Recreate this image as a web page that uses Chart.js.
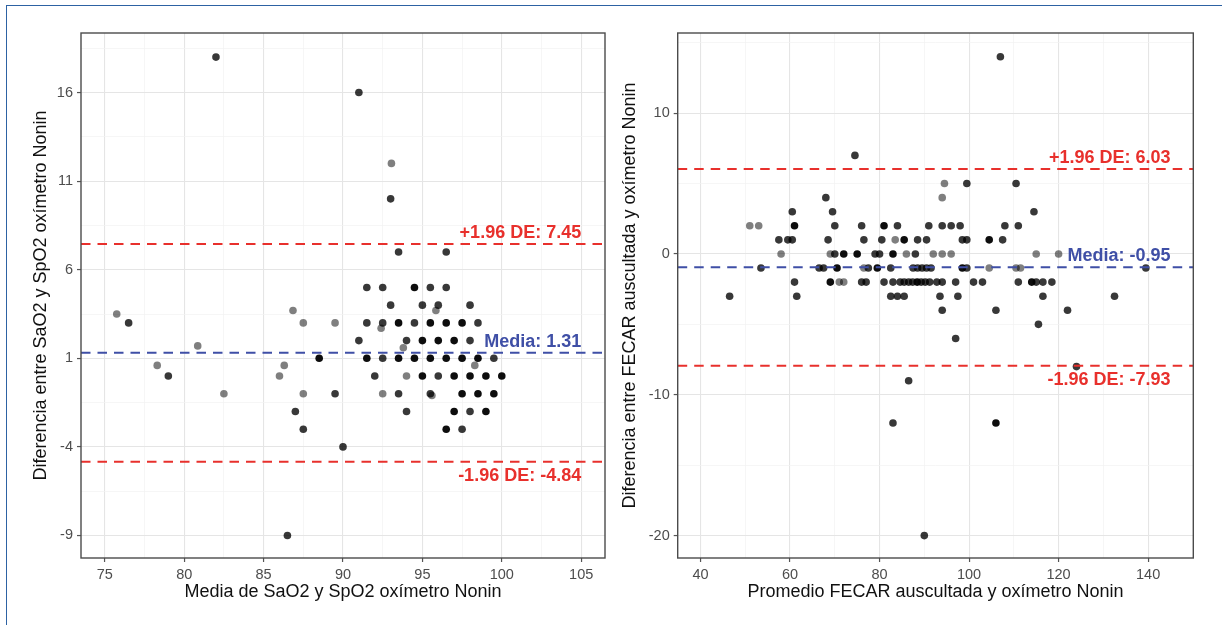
<!DOCTYPE html>
<html>
<head>
<meta charset="utf-8">
<script src="https://cdn.jsdelivr.net/npm/chart.js@4.4.0/dist/chart.umd.min.js"></script>
<style>
  html, body { margin: 0; padding: 0; background: #fff; }
  body { width: 1222px; height: 625px; position: relative; overflow: hidden; }
  canvas { position: absolute; top: 0; }
  #left { left: 0; }
  #right { left: 615px; }
  #frame { position: absolute; left: 6px; top: 5px; width: 1300px; height: 700px;
           border-left: 1.5px solid #2d62a3; border-top: 1.5px solid #2d62a3; pointer-events: none; }
</style>
</head>
<body>
<canvas id="left" width="615" height="625"></canvas>
<canvas id="right" width="607" height="625"></canvas>
<div id="frame"></div>
<script>
/* ====== DATOS ======
 * Panel izquierdo: SaO2 vs SpO2 (Bland-Altman)
 * Panel derecho: FECAR auscultada vs oxímetro
 * Los puntos se agrupan por tono (gris = 1 obs, oscuro, negro = varias superpuestas)
 */

// --- panel izquierdo ---
const leftBlackX = [94.5, 93.5, 95.5, 96.5, 97.5, 95, 96, 97, 88.5, 91.5, 93.5, 94.5, 95.5, 96.5, 97.5, 98.5,
                    95, 97, 98, 99, 100, 97.5, 98.5, 99.5, 97, 99, 96.5];
const leftBlackY = [5, 3, 3, 3, 3, 2, 2, 2, 1, 1, 1, 1, 1, 1, 1, 1,
                    0, 0, 0, 0, 0, -1, -1, -1, -2, -2, -3];

const leftDarkX = [82, 91, 93, 93.5, 96.5, 91.5, 92.5, 95.5, 96.5, 93, 95, 96, 98,
                   76.5, 91.5, 92.5, 94.5, 98.5, 91, 94, 98, 92.5, 99.5, 79, 92, 96,
                   89.5, 93.5, 95.5, 87, 94, 98, 87.5, 97.5, 90, 86.5];
const leftDarkY = [18, 16, 10, 7, 7, 5, 5, 5, 5, 4, 4, 4, 4,
                   3, 3, 3, 3, 3, 2, 2, 2, 1, 1, 0, 0, 0,
                   -1, -1, -1, -2, -2, -2, -3, -3, -4, -9];

const leftGrayX = [75.75, 86.85, 95.85, 93.05, 87.5, 89.5, 92.4, 80.85, 93.8, 78.3, 86.3, 98.3,
                   86, 94, 82.5, 87.5, 92.5, 95.6];
const leftGrayY = [3.5, 3.7, 3.7, 12, 3, 3, 2.7, 1.7, 1.6, 0.6, 0.6, 0.6,
                   0, 0, -1, -1, -1, -1.1];

const leftMean = 1.31, leftUpper = 7.45, leftLower = -4.84;
const leftXMajor = [75, 80, 85, 90, 95, 100, 105];
const leftXMinor = [77.5, 82.5, 87.5, 92.5, 97.5, 102.5];
const leftYMajor = [-9, -4, 1, 6, 11, 16];
const leftYMinor = [-6.5, -1.5, 3.5, 8.5, 13.5, 18.5];

// --- panel derecho ---
const rightBlackX = [61, 81, 85.5, 104.5, 72, 75, 83, 70.5, 79.5, 98.5, 69, 88.4, 114, 106];
const rightBlackY = [2, 2, 1, 1, 0, 0, 0, -1, -1, -1, -2, -2, -2, -12];

const rightDarkX = [107, 74.5, 99.5, 110.5, 68, 60.5, 69.5, 114.5,
  70, 76, 84, 91, 94, 96, 98, 108, 111,
  57.5, 59.5, 60.5, 68.5, 76.5, 80.5, 88.5, 90.5, 98.5, 99.5, 107.5,
  70, 79, 80, 88,
  53.5, 66.5, 67.5, 77.5, 82.5, 87.5, 88.5, 89.5, 90.5, 91.5, 99.5, 139.5,
  61, 76, 77, 81, 83, 84.6, 85.5, 86.5, 87.4, 89.3, 90.2, 91.2, 92.8, 94, 97, 101, 103, 111, 115, 116.5, 118.5,
  46.5, 61.5, 82.5, 84, 85.5, 93.5, 97.5, 116.5, 132.5,
  94, 106, 122, 115.5, 97, 124, 86.5, 83, 90];
const rightDarkY = [14, 7, 5, 5, 4, 3, 3, 3,
  2, 2, 2, 2, 2, 2, 2, 2, 2,
  1, 1, 1, 1, 1, 1, 1, 1, 1, 1, 1,
  0, 0, 0, 0,
  -1, -1, -1, -1, -1, -1, -1, -1, -1, -1, -1, -1,
  -2, -2, -2, -2, -2, -2, -2, -2, -2, -2, -2, -2, -2, -2, -2, -2, -2, -2, -2, -2, -2,
  -3, -3, -3, -3, -3, -3, -3, -3, -3,
  -4, -4, -4, -5, -6, -8, -9, -12, -20];

const rightGrayX = [51, 53, 83.5, 58, 69, 86, 92, 94, 96, 115, 120, 76.5, 104.5, 110.5, 111.5, 71, 72, 94, 94.5];
const rightGrayY = [2, 2, 1, 0, 0, 0, 0, 0, 0, 0, 0, -1, -1, -1, -1, -2, -2, 4, 5];

const rightMean = -0.95, rightUpper = 6.03, rightLower = -7.93;
const rightXMajor = [40, 60, 80, 100, 120, 140];
const rightXMinor = [50, 70, 90, 110, 130];
const rightYMajor = [-20, -10, 0, 10];
const rightYMinor = [-15, -5, 5, 15];

// colores
const RED = '#e8302c';
const BLUE = '#3f4fa6';
const FONT = '"Liberation Sans", Arial, Helvetica, sans-serif';

const pts = (xs, ys) => xs.map((x, i) => ({ x, y: ys[i] }));

// marco del panel + etiquetas de las líneas
const panelPlugin = {
  id: 'panel',
  afterDatasetsDraw(chart, args, opts) {
    const { ctx, chartArea: a, scales: { x, y } } = chart;
    ctx.save();
    ctx.strokeStyle = '#4b4b4b';
    ctx.lineWidth = 1.4;
    ctx.strokeRect(a.left, a.top, a.width, a.height);
    ctx.font = 'bold 18px ' + FONT;
    ctx.textAlign = 'right';
    ctx.textBaseline = 'alphabetic';
    const px = x.getPixelForValue(opts.labelX);
    opts.labels.forEach(l => {
      const py = y.getPixelForValue(l.value);
      ctx.fillStyle = l.color;
      ctx.fillText(l.text, px, l.below ? py + 19.5 : py - 6.3);
    });
    ctx.restore();
  }
};

function axis(range, major, minor, title, fit) {
  const all = [...major, ...minor].sort((a, b) => a - b);
  const isMajor = v => major.includes(v);
  return {
    type: 'linear',
    min: range[0], max: range[1],
    afterBuildTicks: s => { s.ticks = all.map(v => ({ value: v })); },
    afterFit: fit,
    border: { display: false },
    grid: {
      color: c => (c.tick && isMajor(c.tick.value)) ? '#e5e5e5' : '#f2f2f2',
      lineWidth: c => (c.tick && isMajor(c.tick.value)) ? 1.1 : 0.7,
      drawTicks: true,
      tickLength: 4,
      tickWidth: 1.2,
      tickColor: c => (c.tick && isMajor(c.tick.value)) ? '#555' : 'rgba(0,0,0,0)'
    },
    ticks: {
      autoSkip: false,
      maxRotation: 0,
      padding: 4,
      color: '#4d4d4d',
      font: { family: FONT, size: 14.5 },
      callback: v => isMajor(v) ? String(v) : ''
    },
    title: { display: true, text: title.text, color: '#111', font: { family: FONT, size: 18 }, padding: title.padding }
  };
}

function hline(value, color, xr) {
  return {
    type: 'line', showLine: true, order: 0,
    data: [{ x: xr[0], y: value }, { x: xr[1], y: value }],
    borderColor: color, borderWidth: 2, borderDash: [9.5, 7], pointRadius: 0
  };
}

function dots(xs, ys, color) {
  return { type: 'scatter', order: 1, data: pts(xs, ys), backgroundColor: color, borderWidth: 0, pointRadius: 3.8 };
}

function makePanel(id, p) {
  new Chart(document.getElementById(id), {
    type: 'scatter',
    data: {
      datasets: [
        dots(p.grayX, p.grayY, 'rgba(0,0,0,0.5)'),
        dots(p.darkX, p.darkY, 'rgba(0,0,0,0.78)'),
        dots(p.blackX, p.blackY, 'rgba(0,0,0,0.95)'),
        hline(p.upper, RED, p.xRange),
        hline(p.mean, BLUE, p.xRange),
        hline(p.lower, RED, p.xRange)
      ]
    },
    options: {
      responsive: false,
      animation: false,
      layout: { padding: { top: 33, left: 0, right: p.padRight, bottom: 0 } },
      plugins: {
        legend: { display: false },
        tooltip: { enabled: false },
        panel: {
          labelX: p.labelX,
          labels: [
            { text: '+1.96 DE: ' + p.upper.toFixed(2), value: p.upper, color: RED },
            { text: 'Media: ' + p.mean.toFixed(2), value: p.mean, color: BLUE },
            { text: '-1.96 DE: ' + p.lower.toFixed(2), value: p.lower, color: RED, below: true }
          ]
        }
      },
      scales: {
        x: axis(p.xRange, p.xMajor, p.xMinor, { text: p.xTitle, padding: { top: 0, bottom: 22 } }, s => { s.height = 67; }),
        y: axis(p.yRange, p.yMajor, p.yMinor, { text: p.yTitle, padding: { top: p.yTitlePad, bottom: 0 } }, s => { s.width = p.yWidth; })
      }
    },
    plugins: [panelPlugin]
  });
}

makePanel('left', {
  blackX: leftBlackX, blackY: leftBlackY, darkX: leftDarkX, darkY: leftDarkY, grayX: leftGrayX, grayY: leftGrayY,
  mean: leftMean, upper: leftUpper, lower: leftLower, labelX: 105,
  xRange: [73.5, 106.5], yRange: [-10.27, 19.36],
  xMajor: leftXMajor, xMinor: leftXMinor, yMajor: leftYMajor, yMinor: leftYMinor,
  xTitle: 'Media de SaO2 y SpO2 oxímetro Nonin',
  yTitle: 'Diferencia entre SaO2 y SpO2 oxímetro Nonin',
  yWidth: 81, yTitlePad: 30, padRight: 10
});

makePanel('right', {
  blackX: rightBlackX, blackY: rightBlackY, darkX: rightDarkX, darkY: rightDarkY, grayX: rightGrayX, grayY: rightGrayY,
  mean: rightMean, upper: rightUpper, lower: rightLower, labelX: 145,
  xRange: [34.9, 150.1], yRange: [-21.59, 15.69],
  xMajor: rightXMajor, xMinor: rightXMinor, yMajor: rightYMajor, yMinor: rightYMinor,
  xTitle: 'Promedio FECAR auscultada y oxímetro Nonin',
  yTitle: 'Diferencia entre FECAR auscultada y oxímetro Nonin',
  yWidth: 62.7, yTitlePad: 4.5, padRight: 28.7
});
</script>
</body>
</html>
